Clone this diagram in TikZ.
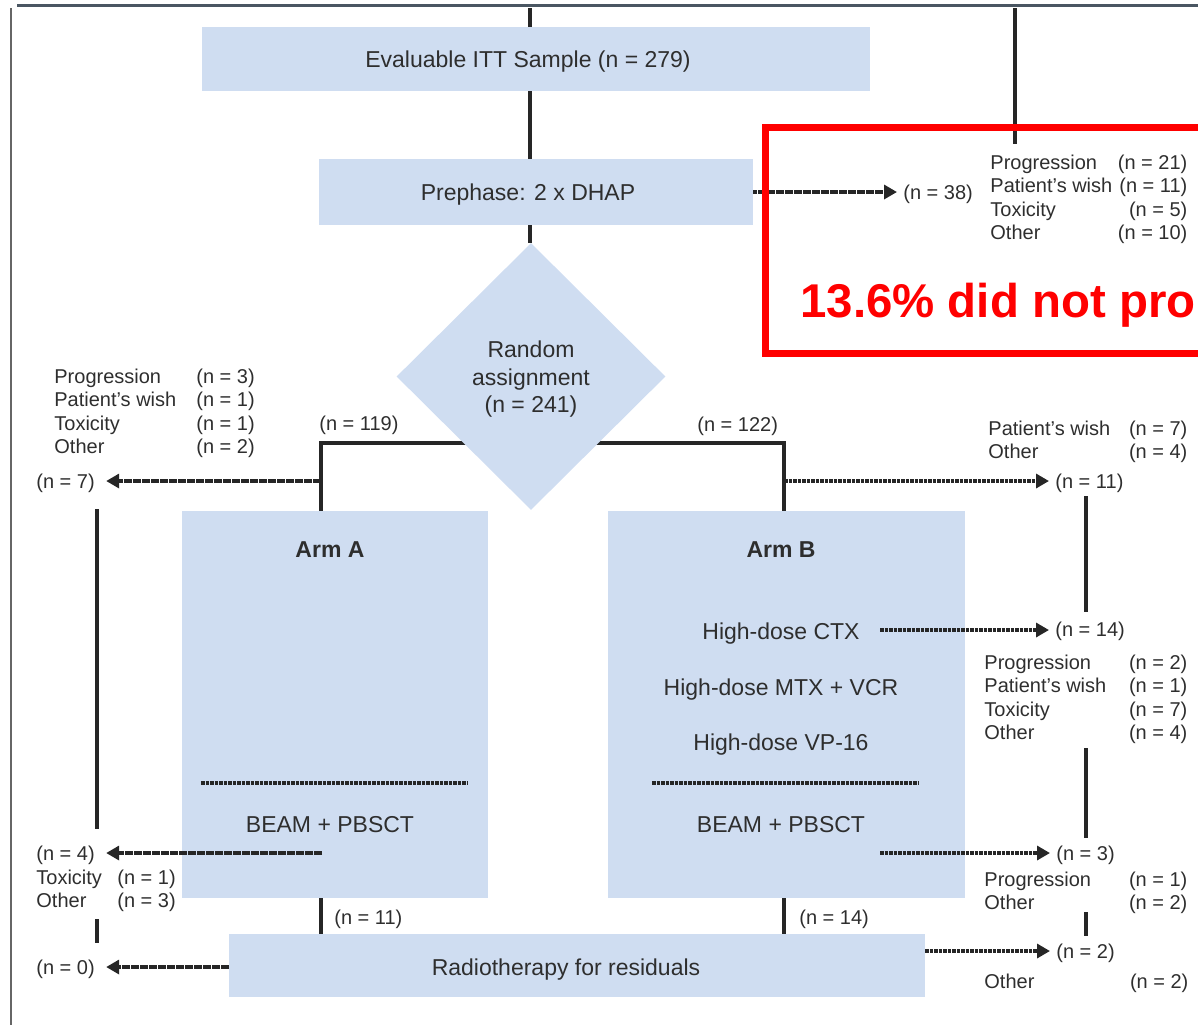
\documentclass[tikz,border=0pt]{standalone}
\usepackage{fontspec}
\setmainfont{Liberation Sans}
\usetikzlibrary{arrows.meta,shapes.geometric,fit}
\definecolor{boxblue}{HTML}{CFDDF1}
\definecolor{ink}{HTML}{2E2E2E}
\definecolor{rule}{HTML}{262626}
\definecolor{frameline}{HTML}{4A5662}
\definecolor{frameside}{HTML}{666666}
\definecolor{alert}{HTML}{FF0000}
% reason lists: label column + count column
\newcommand{\reasonsR}[2]{\begin{tabular*}{#1}[t]{@{}l@{\extracolsep{\fill}}r@{}}#2\end{tabular*}}
\newcommand{\reasonsL}[2]{\begin{tabular}[t]{@{}p{#1}@{}l@{}}#2\end{tabular}}

\begin{document}
\begin{tikzpicture}[x=0.5pt,y=-0.5pt, text=ink,
  box/.style={fill=boxblue, draw=none, inner sep=0pt},
  main/.style={font=\fontsize{11.5}{13.75}\selectfont, inner sep=0pt, anchor=base},
  head/.style={main, font=\fontsize{11.5}{13.75}\selectfont\bfseries},
  num/.style={font=\fontsize{10}{11.75}\selectfont, inner sep=0pt, anchor=base west},
  link/.style={draw=rule, line width=2pt},
  dotarrow/.style={draw=rule, line width=2.2pt, dash pattern=on 1.8pt off 0.45pt,
    -{Triangle[length=6.5pt,width=7pt]}, shorten >=3pt},
  farside/.style={shorten >=5.5pt},
  split/.style={draw=rule, line width=1.7pt, dash pattern=on 1.8pt off 0.45pt},
]
\useasboundingbox (0,0) rectangle (1198,1025);
\clip (0,0) rectangle (1198,1025);

% page frame
\draw[frameline, line width=1.5pt] (17,5) -- (1198,5);
\draw[frameside, line width=1pt] (11,8) -- (11,1025);

% coordinates of line ends
\coordinate (topC) at (530,8);
\coordinate (topR) at (1015,8);
\coordinate (topRend) at (1015,144);
\coordinate (brL) at (321,443);
\coordinate (brR) at (784,443);
\coordinate (outA1) at (321,481);
\coordinate (outB1) at (784,481);
\coordinate (outB2) at (880,630);
\coordinate (outA2) at (322,853);
\coordinate (outB3) at (880,853);
\coordinate (outA3) at (229,967);
\coordinate (outB4) at (925,951);
\coordinate (railL1) at (97,509);
\coordinate (railL2) at (97,829);
\coordinate (railL3) at (97,919);
\coordinate (railL4) at (97,943);
\coordinate (railR1) at (1086,496);
\coordinate (railR2) at (1086,612);
\coordinate (railR3) at (1086,748);
\coordinate (railR4) at (1086,838);
\coordinate (railR5) at (1086,912);
\coordinate (railR6) at (1086,936);
\coordinate (sepA1) at (201,783);
\coordinate (sepA2) at (467,783);
\coordinate (sepB1) at (652,783);
\coordinate (sepB2) at (919,783);

% boxes
\node[box, fit={(202,27) (870,91)}] (eval) {};
\node[box, fit={(319,159) (753,225)}] (prephase) {};
\node[box, fit={(182,511) (488,898)}] (armA) {};
\node[box, fit={(608,511) (965,898)}] (armB) {};
\node[box, fit={(229,934) (925,997)}] (radio) {};

% branch to both arms, behind the diamond
\draw[link] (armA.north -| brL) -- (brL) -- (brR) -- (armB.north -| brR);

\node[diamond, fill=boxblue, inner sep=0pt, aspect=1,
  minimum width=134.5pt, minimum height=133.5pt] (rand) at (531,376.5) {};
\node[align=center, inner sep=0pt, font=\fontsize{11.5}{13.75}\selectfont]
  (randT) at (531,379.5) {Random\\assignment\\(n = 241)};

% solid links
\draw[link] (topC) -- (topC |- eval.north);
\draw[link] (eval.south -| topC) -- (prephase.north -| topC);
\draw[link] (prephase.south -| topC) -- (topC |- rand.north);
\draw[link] (topR) -- (topRend);
\draw[link] (armA.south -| brL) -- (radio.north -| brL);
\draw[link] (armB.south -| brR) -- (radio.north -| brR);
\draw[link] (railL1) -- (railL2);
\draw[link] (railL3) -- (railL4);
\draw[link] (railR1) -- (railR2);
\draw[link] (railR3) -- (railR4);
\draw[link] (railR5) -- (railR6);

% separators inside the arms
\draw[split] (sepA1) -- (sepA2);
\draw[split] (sepB1) -- (sepB2);

% box texts
\node[main] (evalT) at (528,67) {Evaluable ITT Sample (n = 279)};
\node[main] (preT) at (528,200) {Prephase: 2 x DHAP};
\node[head] (armAT) at (330,557) {Arm A};
\node[head] (armBT) at (781,557) {Arm B};
\node[main] (ctxT) at (781,639) {High-dose CTX};
\node[main] (mtxT) at (781,695) {High-dose MTX + VCR};
\node[main] (vpT) at (781,750) {High-dose VP-16};
\node[main] (beamAT) at (330,832) {BEAM + PBSCT};
\node[main] (beamBT) at (781,832) {BEAM + PBSCT};
\node[main] (radioT) at (566,975) {Radiotherapy for residuals};

% counts
\node[num] (n38) at (903,199) {(n = 38)};
\node[num] (n119) at (319,430) {(n = 119)};
\node[num] (n122) at (697,431) {(n = 122)};
\node[num] (n7) at (36,488) {(n = 7)};
\node[num] (n11r) at (1055,488) {(n = 11)};
\node[num] (n14r) at (1055,636) {(n = 14)};
\node[num] (n3) at (1056,860) {(n = 3)};
\node[num] (n2) at (1056,958) {(n = 2)};
\node[num] (n4) at (36,860) {(n = 4)};
\node[num] (n0) at (36,974) {(n = 0)};
\node[num] (n11) at (334,924) {(n = 11)};
\node[num] (n14) at (799,924) {(n = 14)};

% reasons
\node[num] (whyPre) at (990,169) {\reasonsR{98.5pt}{Progression & (n = 21)\\ Patient’s wish & (n = 11)\\ Toxicity & (n = 5)\\ Other & (n = 10)}};
\node[num] (whyA1) at (54,383) {\reasonsL{71pt}{Progression & (n = 3)\\ Patient’s wish & (n = 1)\\ Toxicity & (n = 1)\\ Other & (n = 2)}};
\node[num] (whyB1) at (988,435) {\reasonsR{99.5pt}{Patient’s wish & (n = 7)\\ Other & (n = 4)}};
\node[num] (whyB2) at (984,669) {\reasonsR{101.5pt}{Progression & (n = 2)\\ Patient’s wish & (n = 1)\\ Toxicity & (n = 7)\\ Other & (n = 4)}};
\node[num] (whyB3) at (984,886) {\reasonsR{101.5pt}{Progression & (n = 1)\\ Other & (n = 2)}};
\node[num] (whyB4) at (984,988) {\reasonsR{102pt}{Other & (n = 2)}};
\node[num] (whyA2) at (36,884) {\reasonsL{40.5pt}{Toxicity & (n = 1)\\ Other & (n = 3)}};

% drop-out arrows
\draw[dotarrow] (prephase.east) -- (prephase.east -| n38.west);
\draw[dotarrow, farside] (outA1) -- (outA1 -| n7.east);
\draw[dotarrow] (outB1) -- (outB1 -| n11r.west);
\draw[dotarrow] (outB2) -- (outB2 -| n14r.west);
\draw[dotarrow, farside] (outA2) -- (outA2 -| n4.east);
\draw[dotarrow] (outB3) -- (outB3 -| n3.west);
\draw[dotarrow, farside] (outA3) -- (outA3 -| n0.east);
\draw[dotarrow] (outB4) -- (outB4 -| n2.west);

% highlighted callout
\node[draw=alert, line width=3.5pt, inner sep=0pt, fit={(765,127) (1240,353)}] (callout) {};
\node[font=\fontsize{23.7}{28}\selectfont\bfseries, text=alert, inner sep=0pt, anchor=base west]
  (stopped) at (800,317) {13.6\% did not pro};
\end{tikzpicture}
\end{document}
